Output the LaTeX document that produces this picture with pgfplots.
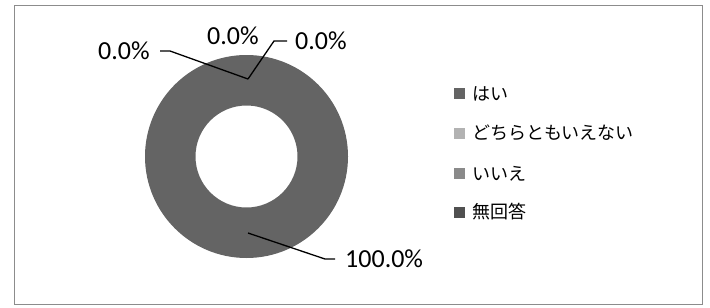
\documentclass[border=0pt]{standalone}
\usepackage{pgfplots}
\pgfplotsset{compat=1.18}
\usepackage{fontspec}
\setmainfont{Carlito}
\newfontfamily\cjk{Noto Sans CJK JP}
\definecolor{cA}{HTML}{646464}
\definecolor{cB}{HTML}{B2B2B2}
\definecolor{cC}{HTML}{8A8A8A}
\definecolor{cD}{HTML}{505050}
\definecolor{frame}{HTML}{8C8C8C}
% data: share in percent
\def\vA{100}\def\vB{0}\def\vC{0}\def\vD{0}
\def\cx{246.5}\def\cy{156.5}\def\Ro{101.5}\def\Ri{51}
\newcommand\donutslice[3]{%
  \pgfmathsetmacro\aS{90-3.6*(#1)}%
  \pgfmathsetmacro\aE{90-3.6*(#2)}%
  \pgfmathsetmacro\xa{\cx+\Ro*cos(\aS)}\pgfmathsetmacro\ya{\cy-\Ro*sin(\aS)}%
  \pgfmathsetmacro\xb{\cx+\Ri*cos(\aE)}\pgfmathsetmacro\yb{\cy-\Ri*sin(\aE)}%
  \pgfmathparse{abs(#2-#1)>0.001?1:0}%
  \ifnum\pgfmathresult=1
  \edef\tmp{\noexpand\fill[#3] (axis cs:\xa,\ya) arc[start angle=\aS, end angle=\aE, radius=\Ro bp] -- (axis cs:\xb,\yb) arc[start angle=\aE, end angle=\aS, radius=\Ri bp] -- cycle;}%
  \tmp
  \fi}
\begin{document}
\begin{tikzpicture}
\begin{axis}[width=710bp, height=307bp, scale only axis, xmin=0, xmax=710, ymin=0, ymax=307, y dir=reverse, hide axis, clip=false]
\path (axis cs:0,0) (axis cs:710,307);
\draw[frame, line width=1.6bp] (axis cs:14.5,5.5) rectangle (axis cs:702.5,304.5);
\pgfmathsetmacro\sA{0}\pgfmathsetmacro\eA{\vA}
\pgfmathsetmacro\eB{\vA+\vB}\pgfmathsetmacro\eC{\vA+\vB+\vC}\pgfmathsetmacro\eD{\vA+\vB+\vC+\vD}
\donutslice{\sA}{\eA}{cA}
\donutslice{\eA}{\eB}{cB}
\donutslice{\eB}{\eC}{cC}
\donutslice{\eC}{\eD}{cD}
% leader lines
\draw[black, line width=1.3bp] (axis cs:160,51) -- (axis cs:170,51) -- (axis cs:248,79);
\draw[black, line width=1.3bp] (axis cs:248,79) -- (axis cs:274,41) -- (axis cs:287,41);
\draw[black, line width=1.3bp] (axis cs:248,233) -- (axis cs:325,259) -- (axis cs:335,259);
% data labels
\node[anchor=base west, inner sep=0, font=\fontsize{26bp}{30bp}\selectfont] at (axis cs:98,59) {0.0\%};
\node[anchor=base west, inner sep=0, font=\fontsize{26bp}{30bp}\selectfont] at (axis cs:207,44) {0.0\%};
\node[anchor=base west, inner sep=0, font=\fontsize{26bp}{30bp}\selectfont] at (axis cs:295,49) {0.0\%};
\node[anchor=base west, inner sep=0, font=\fontsize{26bp}{30bp}\selectfont] at (axis cs:345,267) {100.0\%};
% legend
\fill[cA] (axis cs:453.5,88) rectangle (axis cs:464.5,99);
\fill[cB] (axis cs:453.5,127.5) rectangle (axis cs:464.5,138.5);
\fill[cC] (axis cs:453.5,168) rectangle (axis cs:464.5,179);
\fill[cD] (axis cs:453.5,206.5) rectangle (axis cs:464.5,217.5);
\node[anchor=west, inner sep=0, font=\cjk\fontsize{18bp}{22bp}\selectfont] at (axis cs:472,93.5) {はい};
\node[anchor=west, inner sep=0, font=\cjk\fontsize{18bp}{22bp}\selectfont] at (axis cs:472,133) {どちらともいえない};
\node[anchor=west, inner sep=0, font=\cjk\fontsize{18bp}{22bp}\selectfont] at (axis cs:472,173.5) {いいえ};
\node[anchor=west, inner sep=0, font=\cjk\fontsize{18bp}{22bp}\selectfont] at (axis cs:472,212) {無回答};
\end{axis}
\end{tikzpicture}
\end{document}
